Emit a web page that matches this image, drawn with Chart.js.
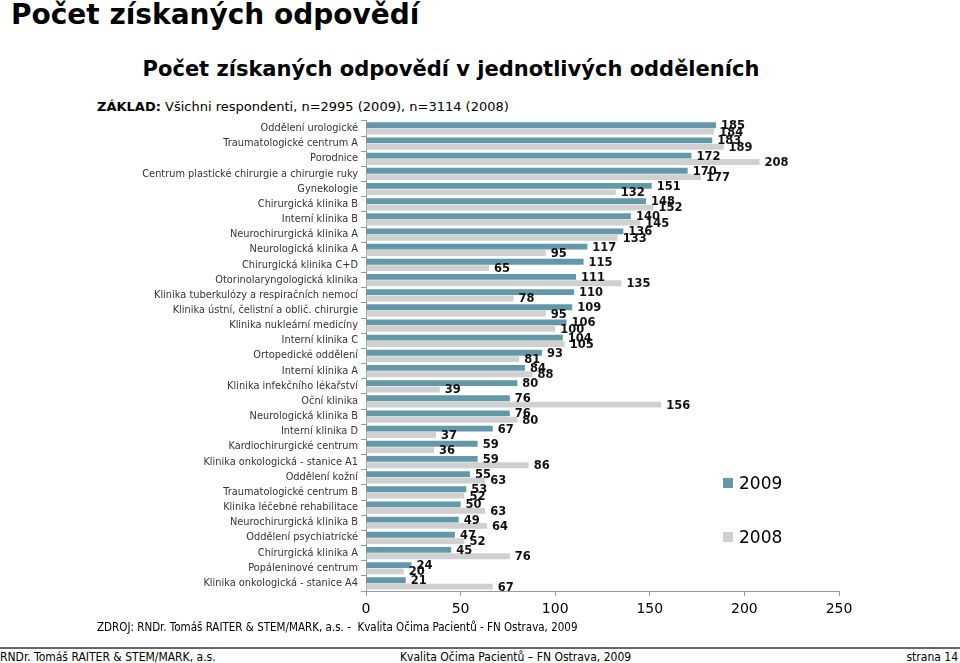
<!DOCTYPE html>
<html>
<head>
<meta charset="utf-8">
<script src="https://cdn.jsdelivr.net/npm/chart.js@4"></script>
<style>
  html, body { margin: 0; padding: 0; background: #fff; }
  body { width: 960px; height: 663px; position: relative; overflow: hidden; font-family: "DejaVu Sans", Verdana, sans-serif; color: #000; }
  .abs { position: absolute; white-space: nowrap; }
  #title { left: 11px; top: -2px; font-size: 28px; font-weight: bold; line-height: normal; }
  #subtitle { left: 0; width: 902px; text-align: center; top: 57px; font-size: 21px; font-weight: bold; }
  #base { left: 97px; top: 99px; font-size: 13px; }
  #wrap { left: 0; top: 112px; width: 960px; height: 510px; }
  #source { left: 97px; top: 620px; font-size: 11.5px; font-family: "DejaVu Sans Condensed", "DejaVu Sans", sans-serif; }
  .leg { left: 723px; font-size: 17px; }
  .leg span { display: inline-block; width: 10px; height: 10px; margin-right: 6px; vertical-align: 1px; }
  #rule { left: 0; top: 647px; width: 960px; height: 2px; background: #666; }
  .foot { top: 650px; font-size: 12px; font-family: "DejaVu Sans Condensed", "Liberation Sans Narrow", sans-serif; }
</style>
</head>
<body>
<div id="title" class="abs">Počet získaných odpovědí</div>
<div id="subtitle" class="abs">Počet získaných odpovědí v jednotlivých odděleních</div>
<div id="base" class="abs"><b>ZÁKLAD:</b> Všichni respondenti, n=2995 (2009), n=3114 (2008)</div>
<div id="wrap" class="abs"><canvas id="chart" width="960" height="510"></canvas></div>
<div class="abs leg" style="top:473px"><span style="background:#6398a8"></span>2009</div>
<div class="abs leg" style="top:527px"><span style="background:#d0d0d0"></span>2008</div>
<div id="source" class="abs">ZDROJ: RNDr. Tomáš RAITER &amp; STEM/MARK, a.s. -&nbsp; Kvalita Očima Pacientů - FN Ostrava, 2009</div>
<div id="rule" class="abs"></div>
<div class="abs foot" style="left:0">RNDr. Tomáš RAITER &amp; STEM/MARK, a.s.</div>
<div class="abs foot" style="left:400px">Kvalita Očima Pacientů – FN Ostrava, 2009</div>
<div class="abs foot" style="right:2px">strana 14</div>

<script>
// Oddělení (shora dolů)
const departments = [
    'Oddělení urologické',
    'Traumatologické centrum A',
    'Porodnice',
    'Centrum plastické chirurgie a chirurgie ruky',
    'Gynekologie',
    'Chirurgická klinika B',
    'Interní klinika B',
    'Neurochirurgická klinika A',
    'Neurologická klinika A',
    'Chirurgická klinika C+D',
    'Otorinolaryngologická klinika',
    'Klinika tuberkulózy a respiračních nemocí',
    'Klinika ústní, čelistní a oblič. chirurgie',
    'Klinika nukleární medicíny',
    'Interní klinika C',
    'Ortopedické oddělení',
    'Interní klinika A',
    'Klinika infekčního lékařství',
    'Oční klinika',
    'Neurologická klinika B',
    'Interní klinika D',
    'Kardiochirurgické centrum',
    'Klinika onkologická - stanice A1',
    'Oddělení kožní',
    'Traumatologické centrum B',
    'Klinika léčebné rehabilitace',
    'Neurochirurgická klinika B',
    'Oddělení psychiatrické',
    'Chirurgická klinika A',
    'Popáleninové centrum',
    'Klinika onkologická - stanice A4'
];

const values2009 = [185, 183, 172, 170, 151, 148, 140, 136, 117, 115, 111, 110, 109, 106, 104,
    93, 84, 80, 76, 76, 67, 59, 59, 55, 53, 50, 49, 47, 45, 24, 21];
const values2008 = [184, 189, 208, 177, 132, 152, 145, 133, 95, 65, 135, 78, 95, 100, 105,
    81, 88, 39, 156, 80, 37, 36, 86, 63, 52, 63, 64, 52, 76, 20, 67];

const xTicks = [0, 50, 100, 150, 200, 250];

// popisky hodnot za koncem sloupce
const valueLabels = {
    id: 'valueLabels',
    afterDatasetsDraw(chart) {
        const ctx = chart.ctx;
        ctx.save();
        ctx.font = 'bold 11.5px "DejaVu Sans", Verdana, sans-serif';
        ctx.fillStyle = '#111';
        ctx.textAlign = 'left';
        ctx.textBaseline = 'middle';
        chart.data.datasets.forEach((ds, i) => {
            chart.getDatasetMeta(i).data.forEach((bar, j) => {
                ctx.fillText(ds.data[j], bar.x + 5, bar.y + 1);
            });
        });
        ctx.restore();
    }
};

new Chart(document.getElementById('chart').getContext('2d'), {
    type: 'bar',
    data: {
        labels: departments,
        datasets: [
            { label: '2009', data: values2009, backgroundColor: '#6398a8' },
            { label: '2008', data: values2008, backgroundColor: '#d0d0d0' }
        ]
    },
    options: {
        indexAxis: 'y',
        responsive: false,
        animation: false,
        layout: { padding: { top: 8, right: 121, left: 0, bottom: 0 } },
        datasets: { bar: { categoryPercentage: 0.84, barPercentage: 0.92 } },
        plugins: { legend: { display: false }, tooltip: { enabled: false } },
        scales: {
            x: {
                min: 0, max: 250,
                afterBuildTicks: s => { s.ticks = xTicks.map(v => ({ value: v })); },
                afterFit: s => { s.height = 31; },
                grid: { drawOnChartArea: false, tickLength: 5, color: '#999' },
                border: { color: '#999' },
                ticks: { color: '#000', padding: 5, font: { family: '"DejaVu Sans", Verdana, sans-serif', size: 14 } }
            },
            y: {
                afterFit: s => { s.width = 366; },
                grid: { drawOnChartArea: false, tickLength: 5, color: '#999', offset: true },
                border: { color: '#999' },
                ticks: { color: '#333', padding: 3, autoSkip: false, font: { family: '"DejaVu Sans", Verdana, sans-serif', size: 9.8 } }
            }
        }
    },
    plugins: [valueLabels]
});
</script>
</body>
</html>
